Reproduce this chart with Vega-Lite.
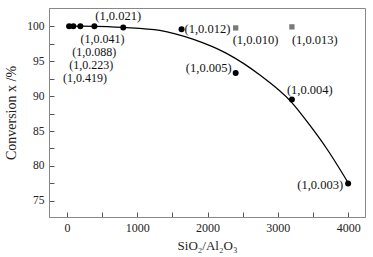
{
  "$schema": "https://vega.github.io/schema/vega-lite/v6.json",
  "width": 316,
  "height": 209,
  "autosize": "none",
  "padding": {"left": 49, "top": 8, "right": 8, "bottom": 40},
  "background": "white",
  "config": {
    "view": {"stroke": "#888888", "strokeWidth": 1},
    "font": "Liberation Serif",
    "text": {"color": "#111111", "fontSize": 12.5, "font": "Liberation Serif"},
    "axis": {"grid": false, "domainColor": "#888888", "tickColor": "#555555", "labelColor": "#222222", "titleColor": "#222222", "labelFont": "Liberation Serif", "titleFont": "Liberation Serif", "titleFontWeight": "normal"}
  },
  "datasets": {
    "pts": [
      {"x": 30, "y": 100.0, "label": "(1,0.419)", "kind": "circle"},
      {"x": 90, "y": 100.0, "label": "(1,0.223)", "kind": "circle"},
      {"x": 190, "y": 100.0, "label": "(1,0.088)", "kind": "circle"},
      {"x": 390, "y": 100.0, "label": "(1,0.041)", "kind": "circle"},
      {"x": 800, "y": 99.8, "label": "(1,0.021)", "kind": "circle"},
      {"x": 1630, "y": 99.55, "label": "(1,0.012)", "kind": "circle"},
      {"x": 2400, "y": 93.3, "label": "(1,0.005)", "kind": "circle"},
      {"x": 3200, "y": 89.5, "label": "(1,0.004)", "kind": "circle"},
      {"x": 4000, "y": 77.5, "label": "(1,0.003)", "kind": "circle"},
      {"x": 2400, "y": 99.75, "label": "(1,0.010)", "kind": "square"},
      {"x": 3200, "y": 99.9, "label": "(1,0.013)", "kind": "square"}
    ],
    "curve": [
      {"x": 30, "y": 100.0},
      {"x": 400, "y": 99.98},
      {"x": 800, "y": 99.82},
      {"x": 1320, "y": 99.4},
      {"x": 1800, "y": 98.1},
      {"x": 2270, "y": 96.1},
      {"x": 2745, "y": 93.0},
      {"x": 3196, "y": 89.1},
      {"x": 3457, "y": 85.8},
      {"x": 3694, "y": 82.5},
      {"x": 4000, "y": 77.6}
    ]
  },
  "encoding": {
    "x": {"field": "x", "type": "quantitative", "scale": {"domain": [-256, 4240], "nice": false, "zero": false},
      "axis": {"title": "SiO₂/Al₂O₃", "titleFontSize": 13, "titlePadding": 6, "values": [0, 500, 1000, 1500, 2000, 2500, 3000, 3500, 4000], "labelExpr": "datum.value % 1000 == 0 ? datum.value : ''", "tickSize": -5, "labelPadding": 10, "labelFontSize": 12}},
    "y": {"field": "y", "type": "quantitative", "scale": {"domain": [72.7, 102.6], "nice": false, "zero": false},
      "axis": {"title": "Conversion    x /%", "titleFontSize": 14, "titlePadding": 8, "values": [75, 77.5, 80, 82.5, 85, 87.5, 90, 92.5, 95, 97.5, 100], "labelExpr": "datum.value % 5 == 0 ? datum.value : ''", "tickSize": -5, "labelPadding": 10, "labelFontSize": 11.5}}
  },
  "layer": [
    {"data": {"name": "curve"}, "mark": {"type": "line", "color": "black", "strokeWidth": 1.3, "interpolate": "monotone"}},
    {"data": {"name": "pts"}, "transform": [{"filter": "datum.kind == 'circle'"}], "mark": {"type": "point", "shape": "circle", "filled": true, "color": "black", "size": 36, "opacity": 1}},
    {"data": {"name": "pts"}, "transform": [{"filter": "datum.kind == 'square'"}], "mark": {"type": "point", "shape": "square", "filled": true, "color": "#7a7a7a", "size": 28, "opacity": 1}},
    {"data": {"name": "pts"}, "transform": [{"filter": "datum.label == '(1,0.021)'"}], "mark": {"type": "text", "align": "center", "baseline": "middle", "dx": -5, "dy": -12}, "encoding": {"text": {"field": "label"}}},
    {"data": {"name": "pts"}, "transform": [{"filter": "datum.label == '(1,0.041)'"}], "mark": {"type": "text", "align": "center", "baseline": "middle", "fontSize": 12, "dx": 8, "dy": 13}, "encoding": {"text": {"field": "label"}}},
    {"data": {"name": "pts"}, "transform": [{"filter": "datum.label == '(1,0.088)'"}], "mark": {"type": "text", "align": "center", "baseline": "middle", "fontSize": 12, "dx": 14, "dy": 26}, "encoding": {"text": {"field": "label"}}},
    {"data": {"name": "pts"}, "transform": [{"filter": "datum.label == '(1,0.223)'"}], "mark": {"type": "text", "align": "center", "baseline": "middle", "fontSize": 12, "dx": 18, "dy": 39}, "encoding": {"text": {"field": "label"}}},
    {"data": {"name": "pts"}, "transform": [{"filter": "datum.label == '(1,0.419)'"}], "mark": {"type": "text", "align": "center", "baseline": "middle", "fontSize": 12, "dx": 16, "dy": 52}, "encoding": {"text": {"field": "label"}}},
    {"data": {"name": "pts"}, "transform": [{"filter": "datum.label == '(1,0.012)'"}], "mark": {"type": "text", "align": "left", "baseline": "middle", "dx": 3, "dy": 0}, "encoding": {"text": {"field": "label"}}},
    {"data": {"name": "pts"}, "transform": [{"filter": "datum.label == '(1,0.010)'"}], "mark": {"type": "text", "align": "left", "baseline": "middle", "dx": -3, "dy": 12}, "encoding": {"text": {"field": "label"}}},
    {"data": {"name": "pts"}, "transform": [{"filter": "datum.label == '(1,0.013)'"}], "mark": {"type": "text", "align": "left", "baseline": "middle", "dx": 0, "dy": 13}, "encoding": {"text": {"field": "label"}}},
    {"data": {"name": "pts"}, "transform": [{"filter": "datum.label == '(1,0.005)'"}], "mark": {"type": "text", "align": "right", "baseline": "middle", "dx": -4, "dy": -5}, "encoding": {"text": {"field": "label"}}},
    {"data": {"name": "pts"}, "transform": [{"filter": "datum.label == '(1,0.004)'"}], "mark": {"type": "text", "align": "left", "baseline": "middle", "dx": -5, "dy": -10}, "encoding": {"text": {"field": "label"}}},
    {"data": {"name": "pts"}, "transform": [{"filter": "datum.label == '(1,0.003)'"}], "mark": {"type": "text", "align": "right", "baseline": "middle", "dx": -5, "dy": 2}, "encoding": {"text": {"field": "label"}}}
  ]
}
